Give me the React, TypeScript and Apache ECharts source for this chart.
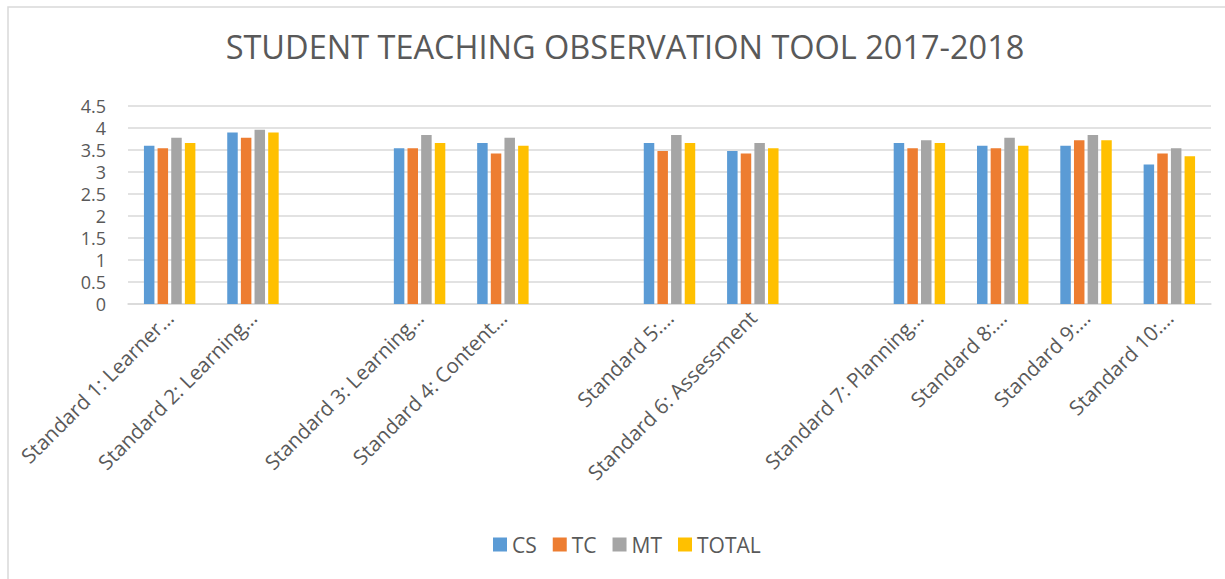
import React, { useEffect, useRef } from "react";
import * as echarts from "echarts";

const categories = [
  "Standard 1: Learner…",
  "Standard 2: Learning…",
  "",
  "Standard 3: Learning…",
  "Standard 4: Content…",
  " ",
  "Standard 5:…",
  "Standard 6: Assessment",
  "  ",
  "Standard 7: Planning…",
  "Standard 8:…",
  "Standard 9:…",
  "Standard 10:…",
];

const csValues = [3.59, 3.89, null, 3.53, 3.65, null, 3.65, 3.47, null, 3.65, 3.59, 3.59, 3.16];
const tcValues = [3.53, 3.77, null, 3.53, 3.41, null, 3.47, 3.41, null, 3.53, 3.53, 3.71, 3.41];
const mtValues = [3.77, 3.95, null, 3.83, 3.77, null, 3.83, 3.65, null, 3.71, 3.77, 3.83, 3.53];
const totalValues = [3.65, 3.89, null, 3.65, 3.59, null, 3.65, 3.53, null, 3.65, 3.59, 3.71, 3.35];

const seriesNames = ["CS", "TC", "MT", "TOTAL"];
const seriesColors = ["#5b9bd5", "#ed7d31", "#a5a5a5", "#ffc000"];
const titleText = "STUDENT TEACHING OBSERVATION TOOL 2017-2018";

const FONT = "'Open Sans', 'Noto Sans', sans-serif";
const TEXT = "#595959";

export default function App() {
  const ref = useRef<HTMLDivElement>(null);
  useEffect(() => {
    if (!ref.current) return;
    const chart = echarts.init(ref.current, null, { renderer: "svg" });
    const data = [csValues, tcValues, mtValues, totalValues];
    chart.setOption({
      animation: false,
      backgroundColor: "#ffffff",
      textStyle: { fontFamily: FONT },
      graphic: [
        {
          type: "rect",
          shape: { x: 8, y: 7, width: 1400, height: 800 },
          style: { fill: "none", stroke: "#d9d9d9", lineWidth: 1.5 },
          silent: true,
        },
      ],
      title: {
        text: titleText,
        left: 620,
        textAlign: "center",
        top: 25,
        textStyle: { fontFamily: FONT, fontSize: 32.5, fontWeight: "normal", color: TEXT },
      },
      legend: {
        data: seriesNames,
        left: 488,
        top: 529,
        icon: "rect",
        itemWidth: 14,
        itemHeight: 14,
        itemGap: 16,
        textStyle: { fontFamily: FONT, fontSize: 21, color: TEXT },
      },
      grid: { left: 128, right: 14, top: 105.5, bottom: 275, containLabel: false },
      xAxis: {
        type: "category",
        data: categories,
        axisLine: { lineStyle: { color: "#d9d9d9", width: 1.5 } },
        axisTick: { show: false },
        axisLabel: {
          interval: 0,
          rotate: 45,
          margin: 10,
          fontFamily: FONT,
          fontSize: 20.5,
          color: TEXT,
        },
      },
      yAxis: {
        type: "value",
        min: 0,
        max: 4.5,
        interval: 0.5,
        axisLine: { show: false },
        axisTick: { show: false },
        splitLine: { lineStyle: { color: "#d9d9d9", width: 1.5 } },
        axisLabel: { fontFamily: FONT, fontSize: 18, lineHeight: 18, color: TEXT, margin: 22 },
      },
      series: seriesNames.map((name, i) => ({
        name,
        type: "bar",
        data: data[i],
        barWidth: 10.5,
        barGap: "30%",
        itemStyle: { color: seriesColors[i] },
      })),
    });
    return () => chart.dispose();
  }, []);
  return (
    <div
      ref={ref}
      style={{ position: "fixed", left: 0, top: 0, width: 1225, height: 579 }}
    />
  );
}
